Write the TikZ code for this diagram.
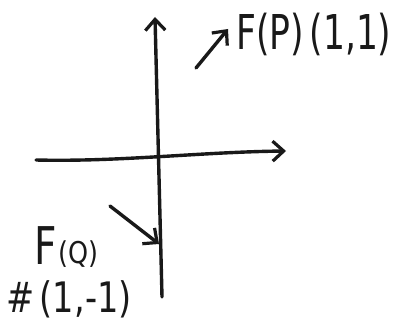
\documentclass[tikz,border=0pt]{standalone}
\usepackage{fontspec}
\setmainfont{DejaVu Sans}
\usetikzlibrary{arrows.meta}
\begin{document}
\begin{tikzpicture}[x=1pt,y=-1pt,
  pen/.style={line width=3.4pt,line cap=round,line join=round,black!90},
  barb/.style={-{Straight Barb[length=11pt,width=20pt,line width=3.2pt]}},
  hand/.style={inner sep=0pt,anchor=west,text=black!90}]
\useasboundingbox (0,0) rectangle (411,326);
\coordinate (ytop) at (155,17);
\coordinate (ybot) at (162,297);
\coordinate (xl) at (36,160);
\coordinate (xr) at (286,151);
\draw[pen,barb] (ybot) -- (ytop);
\draw[pen,barb] (xl) .. controls (120,162) and (200,152) .. (xr);
\coordinate (pa) at (196,68);
\coordinate (pb) at (228,29);
\draw[pen,barb] (pa) -- (pb);
\coordinate (qa) at (110,206);
\coordinate (qb) at (159,244);
\draw[pen,barb] (qa) -- (qb);
\node[hand,font=\fontsize{48}{48}\selectfont,xscale=0.72] (fp) at (236,34) {F(P)\,(1,1)};
\node[hand,font=\fontsize{52}{52}\selectfont,xscale=0.75] (fq) at (34,246) {F};
\node[hand,font=\fontsize{30}{30}\selectfont,xscale=0.85] (fq2) at (58,254) {(Q)};
\node[hand,font=\fontsize{42}{42}\selectfont,xscale=0.8] (q) at (6,299) {\#\,(1,-1)};
\end{tikzpicture}
\end{document}
